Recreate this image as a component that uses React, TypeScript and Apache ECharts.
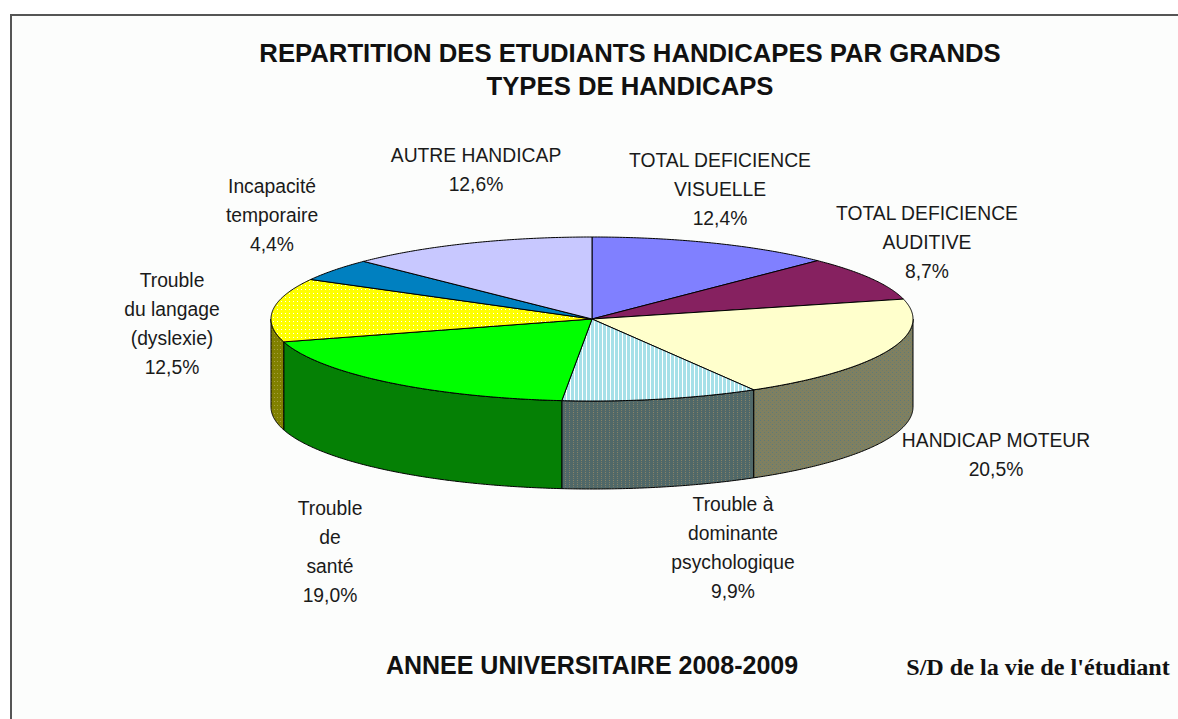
import React, { useEffect, useRef } from "react";
import * as echarts from "echarts";

// ---- data ----
const categories = [
  "TOTAL DEFICIENCE\nVISUELLE",
  "TOTAL DEFICIENCE\nAUDITIVE",
  "HANDICAP MOTEUR",
  "Trouble à\ndominante\npsychologique",
  "Trouble\nde\nsanté",
  "Trouble\ndu langage\n(dyslexie)",
  "Incapacité\ntemporaire",
  "AUTRE HANDICAP",
];
const values = [12.4, 8.7, 20.5, 9.9, 19.0, 12.5, 4.4, 12.6];
const titleLines = ["REPARTITION DES ETUDIANTS HANDICAPES PAR GRANDS", "TYPES DE HANDICAPS"];
const subtitle = "ANNEE UNIVERSITAIRE 2008-2009";
const sourceText = "S/D de la vie de l'étudiant";

// ---- layout (not data) ----
const labelAnchors: [number, number][] = [
  [720, 160], [927, 213], [996, 440], [733, 504],
  [330, 508], [172, 280], [272, 186], [476, 155],
];
const CX = 592, CY = 319, RX = 321, RY = 82, DEPTH = 88;

function makePattern(w: number, h: number, base: string, dots: [number, number, string, number?, number?][]) {
  const c = document.createElement("canvas");
  c.width = w; c.height = h;
  const ctx = c.getContext("2d")!;
  ctx.fillStyle = base; ctx.fillRect(0, 0, w, h);
  dots.forEach(([x, y, col, dw, dh]) => { ctx.fillStyle = col; ctx.fillRect(x, y, dw || 1, dh || 1); });
  return { image: c, repeat: "repeat", imageWidth: w, imageHeight: h } as any;
}

function fmt(v: number) { return v.toFixed(1).replace(".", ",") + "%"; }

export default function App() {
  const ref = useRef<HTMLDivElement>(null);
  useEffect(() => {
    document.body.style.margin = "0";
    const chart = echarts.init(ref.current!, null, { renderer: "svg" });

    const yellowDots = makePattern(4, 4, "#ffff00", [[1, 1, "#ffffff"]]);
    const cyanStripes = makePattern(4, 1, "#a6e0e8", [[2, 0, "#ffffff"]]);
    const psychSide = makePattern(4, 4, "#506868", [[1, 0, "#8a8468"], [1, 2, "#7c7c66"]]);
    const moteurSide = makePattern(4, 4, "#808060", [[0, 0, "#5c7a7a"], [2, 2, "#6a7c70"]]);
    const langSide = makePattern(3, 4, "#808000", [[1, 1, "#a8a040"]]);

    const tops: any[] = ["#8080ff", "#862160", "#ffffcc", cyanStripes, "#00ff00", yellowDots, "#0080c0", "#c8c8ff"];
    const sides: any[] = ["#4040a0", "#501040", moteurSide, psychSide, "#058005", langSide, "#004060", "#8080b0"];

    const total = values.reduce((a, b) => a + b, 0);
    const cum: number[] = [];
    values.reduce((acc, v, i) => { cum[i] = acc; return acc + v; }, 0);

    const pt = (a: number, dy = 0) => {
      const t = ((90 - a) * Math.PI) / 180;
      return [CX + RX * Math.cos(t), CY - RY * Math.sin(t) + dy];
    };
    const arc = (a0: number, a1: number, dy = 0) => {
      const n = Math.max(2, Math.ceil((a1 - a0) / 0.5));
      const pts: number[][] = [];
      for (let k = 0; k <= n; k++) pts.push(pt(a0 + ((a1 - a0) * k) / n, dy));
      return pts;
    };

    const renderItem = (params: any, api: any) => {
      const i = params.dataIndex;
      const v = api.value(0);
      const a0 = (cum[i] / total) * 360;
      const a1 = ((cum[i] + v) / total) * 360;
      const children: any[] = [];
      const s = Math.max(a0, 90), e = Math.min(a1, 270);
      if (e > s) {
        const pts = arc(s, e, 0).concat(arc(s, e, DEPTH).reverse());
        children.push({ type: "polygon", shape: { points: pts }, style: { fill: sides[i], stroke: "#000", lineWidth: 1 } });
      }
      const top = [[CX, CY]].concat(arc(a0, a1, 0));
      children.push({ type: "polygon", shape: { points: top }, style: { fill: tops[i], stroke: "#000", lineWidth: 1 } });
      return { type: "group", children };
    };

    const textEl = (text: string, x: number, y: number, font: string, scaleX: number, extra: any = {}) => ({
      type: "text", x, y, scaleX, z: 10,
      style: { text, font, fill: "#1a1a1a", align: "center", verticalAlign: "middle", ...extra },
    });

    const labelFont = '21px "Liberation Sans", Arial, sans-serif';
    const labels = categories.map((c, i) =>
      textEl(`${c}\n${fmt(values[i])}`, labelAnchors[i][0], labelAnchors[i][1] - 14.5, labelFont, 0.92, { verticalAlign: "top", lineHeight: 29 })
    );
    const boldFont = 'bold 25px "Liberation Sans", Arial, sans-serif';

    chart.setOption({
      animation: false,
      backgroundColor: "#ffffff",
      graphic: [
        { type: "rect", z: -10, shape: { x: 11, y: 15, width: 1200, height: 800 }, style: { fill: "#fcfdfc", stroke: "#555555", lineWidth: 2 } },
        textEl(titleLines[0], 630, 53, boldFont, 1.028, { fill: "#111" }),
        textEl(titleLines[1], 630, 86, boldFont, 1.028, { fill: "#111" }),
        textEl(subtitle, 592, 665, boldFont, 1.0, { fill: "#111" }),
        textEl(sourceText, 1038, 667, 'bold 23px "Liberation Serif", "Times New Roman", serif', 1.05, { fill: "#111" }),
        ...labels,
      ],
      series: [
        {
          type: "custom",
          coordinateSystem: "none",
          renderItem,
          data: values.map((v, i) => [v, i]),
          silent: true,
        },
      ],
    });
    return () => chart.dispose();
  }, []);
  return <div ref={ref} style={{ width: 1178, height: 719 }} />;
}
